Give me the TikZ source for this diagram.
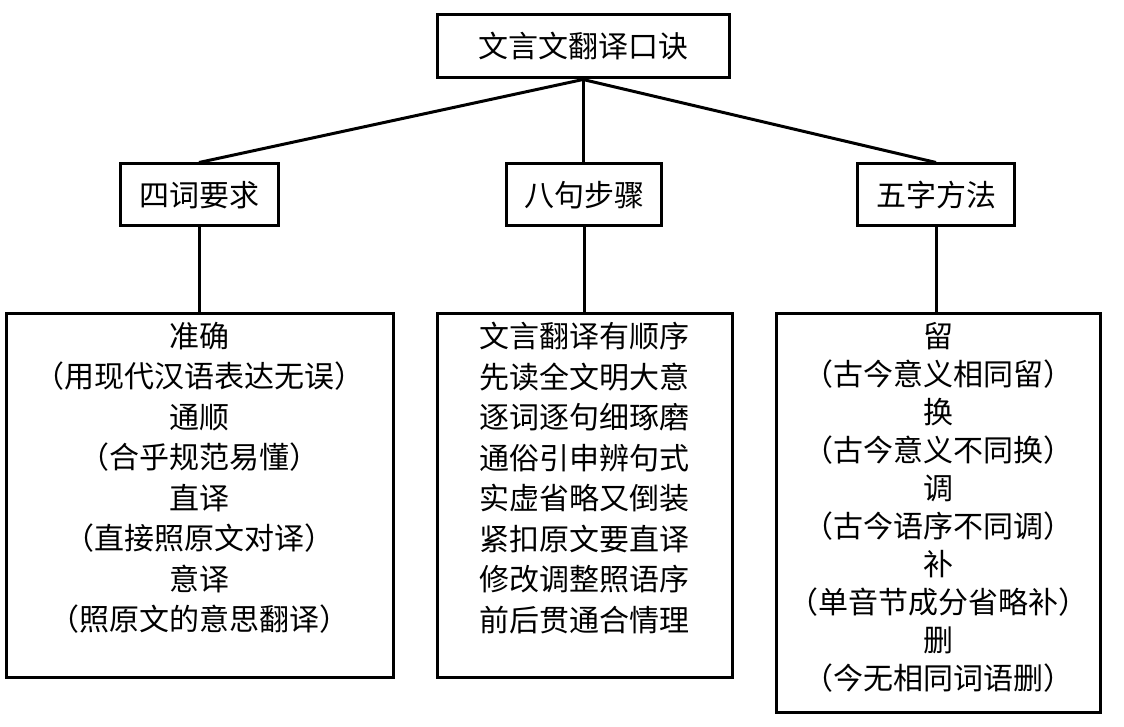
\documentclass[tikz,border=0pt]{standalone}
\usepackage{fontspec}
\setmainfont{Noto Sans CJK SC}
\begin{document}
\begin{tikzpicture}[x=1pt,y=-1pt,
  box/.style={draw=black,line width=3pt,rectangle,inner sep=0pt},
  lbl/.style={font=\fontsize{30}{40}\selectfont,inner sep=0pt},
  body/.style={font=\fontsize{30}{40.5}\selectfont,align=center,inner sep=0pt,anchor=north},
  conn/.style={line width=3pt}]
\useasboundingbox (0,0) rectangle (1124,727);
\node[box,minimum width=292pt,minimum height=63pt] (top) at (583,46.5) {};
\node[lbl] (toplbl) at (top.center) {文言文翻译口诀};
\node[box,minimum width=158pt,minimum height=62pt] (m1) at (199,195) {};
\node[lbl] (m1l) at (m1.center) {四词要求};
\node[box,minimum width=155pt,minimum height=62pt] (m2) at (584,195) {};
\node[lbl] (m2l) at (m2.center) {八句步骤};
\node[box,minimum width=157pt,minimum height=62pt] (m3) at (936,195) {};
\node[lbl] (m3l) at (m3.center) {五字方法};
\node[box,minimum width=387pt,minimum height=364pt] (b1) at (199.5,495) {};
\node[box,minimum width=295pt,minimum height=364pt] (b2) at (584.5,495) {};
\node[box,minimum width=324pt,minimum height=399pt] (b3) at (938,512.5) {};
\node[body] (t1) at (199.5,322) {准确\\（用现代汉语表达无误）\\通顺\\（合乎规范易懂）\\直译\\（直接照原文对译）\\意译\\（照原文的意思翻译）};
\node[body] (t2) at (584.5,322) {文言翻译有顺序\\先读全文明大意\\逐词逐句细琢磨\\通俗引申辨句式\\实虚省略又倒装\\紧扣原文要直译\\修改调整照语序\\前后贯通合情理};
\node[body,font=\fontsize{30}{38}\selectfont] (t3) at (938,322) {留\\（古今意义相同留）\\换\\（古今意义不同换）\\调\\（古今语序不同调）\\补\\（单音节成分省略补）\\删\\（今无相同词语删）};
\draw[conn] (top.south) -- (m1.north);
\draw[conn] (top.south) -- (top.south |- m2.north);
\draw[conn] (top.south) -- (m3.north);
\draw[conn] (m1.south) -- (m1.south |- b1.north);
\draw[conn] (m2.south) -- (m2.south |- b2.north);
\draw[conn] (m3.south) -- (m3.south |- b3.north);
\end{tikzpicture}
\end{document}
